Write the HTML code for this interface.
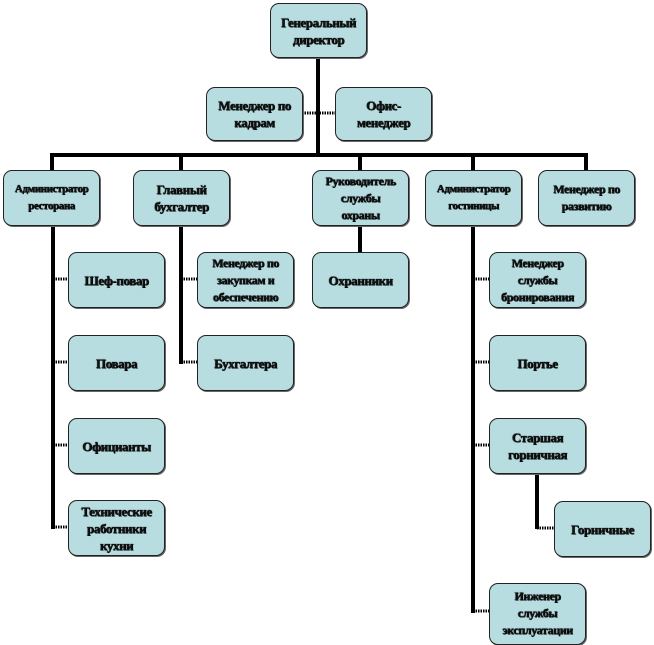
<!DOCTYPE html>
<html><head><meta charset="utf-8"><style>
body{margin:0;width:654px;height:642px;background:#fff;position:relative;overflow:hidden;font-family:"Liberation Serif","DejaVu Serif",serif}
.b{position:absolute;box-sizing:border-box;background:#b7dde0;border:1.5px solid #222;border-radius:9px;display:flex;align-items:center;justify-content:center;text-align:center;font-weight:bold;font-size:13px;line-height:17px;color:#111;text-shadow:0 0 1px #000,0.5px 0.5px 0 #000;letter-spacing:-0.4px;box-shadow:1px 1px 0 #666}
svg{position:absolute;left:0;top:0}
</style></head><body>
<svg width="654" height="642">
<g stroke="#000" stroke-width="4" fill="none">
<line x1="318" y1="57" x2="318" y2="157"/>
<line x1="50" y1="155" x2="588" y2="155"/>
<line x1="52" y1="153" x2="52" y2="170"/>
<line x1="181" y1="153" x2="181" y2="170"/>
<line x1="360" y1="153" x2="360" y2="170"/>
<line x1="473" y1="153" x2="473" y2="170"/>
<line x1="586" y1="153" x2="586" y2="170"/>
<line x1="53" y1="225" x2="53" y2="529"/>
<line x1="181" y1="225" x2="181" y2="364"/>
<line x1="360" y1="225" x2="360" y2="252"/>
<line x1="473" y1="225" x2="473" y2="613"/>
<line x1="537" y1="473" x2="537" y2="529"/>
</g>
<g stroke="#000" stroke-width="3" stroke-dasharray="1.5 1" fill="none">
<line x1="302" y1="113" x2="335" y2="113"/>
<line x1="53" y1="279" x2="68" y2="279"/>
<line x1="53" y1="362" x2="68" y2="362"/>
<line x1="53" y1="445" x2="68" y2="445"/>
<line x1="53" y1="527" x2="68" y2="527"/>
<line x1="181" y1="279" x2="197" y2="279"/>
<line x1="181" y1="362" x2="197" y2="362"/>
<line x1="473" y1="279" x2="489" y2="279"/>
<line x1="473" y1="362" x2="489" y2="362"/>
<line x1="473" y1="445" x2="489" y2="445"/>
<line x1="473" y1="611" x2="489" y2="611"/>
<line x1="537" y1="528" x2="554" y2="528"/>
</g>
</svg>
<div class="b" style="left:270px;top:3px;width:97px;height:55px">Генеральный<br>директор</div>
<div class="b" style="left:206px;top:87px;width:97px;height:54px">Менеджер по<br>кадрам</div>
<div class="b" style="left:335px;top:87px;width:97px;height:54px">Офис-<br>менеджер</div>
<div class="b" style="left:3px;top:170px;width:97px;height:56px;font-size:11px">Администратор<br>ресторана</div>
<div class="b" style="left:133px;top:170px;width:97px;height:56px">Главный<br>бухгалтер</div>
<div class="b" style="left:312px;top:170px;width:97px;height:56px;font-size:12px">Руководитель<br>службы<br>охраны</div>
<div class="b" style="left:425px;top:170px;width:97px;height:56px;font-size:11px">Администратор<br>гостиницы</div>
<div class="b" style="left:538px;top:170px;width:97px;height:56px;font-size:12px">Менеджер по<br>развитию</div>
<div class="b" style="left:68px;top:252px;width:97px;height:56px">Шеф-повар</div>
<div class="b" style="left:68px;top:335px;width:97px;height:56px">Повара</div>
<div class="b" style="left:68px;top:418px;width:97px;height:56px">Официанты</div>
<div class="b" style="left:68px;top:500px;width:97px;height:56px">Технические<br>работники<br>кухни</div>
<div class="b" style="left:197px;top:252px;width:97px;height:56px;font-size:12px">Менеджер по<br>закупкам и<br>обеспечению</div>
<div class="b" style="left:197px;top:335px;width:97px;height:56px">Бухгалтера</div>
<div class="b" style="left:312px;top:252px;width:97px;height:56px">Охранники</div>
<div class="b" style="left:489px;top:252px;width:97px;height:56px;font-size:12px">Менеджер<br>службы<br>бронирования</div>
<div class="b" style="left:489px;top:335px;width:97px;height:56px">Портье</div>
<div class="b" style="left:489px;top:418px;width:97px;height:56px">Старшая<br>горничная</div>
<div class="b" style="left:554px;top:501px;width:97px;height:56px">Горничные</div>
<div class="b" style="left:489px;top:583px;width:97px;height:62px;align-items:flex-start;padding-top:4px;font-size:12px">Инженер<br>службы<br>эксплуатации</div>
</body></html>
